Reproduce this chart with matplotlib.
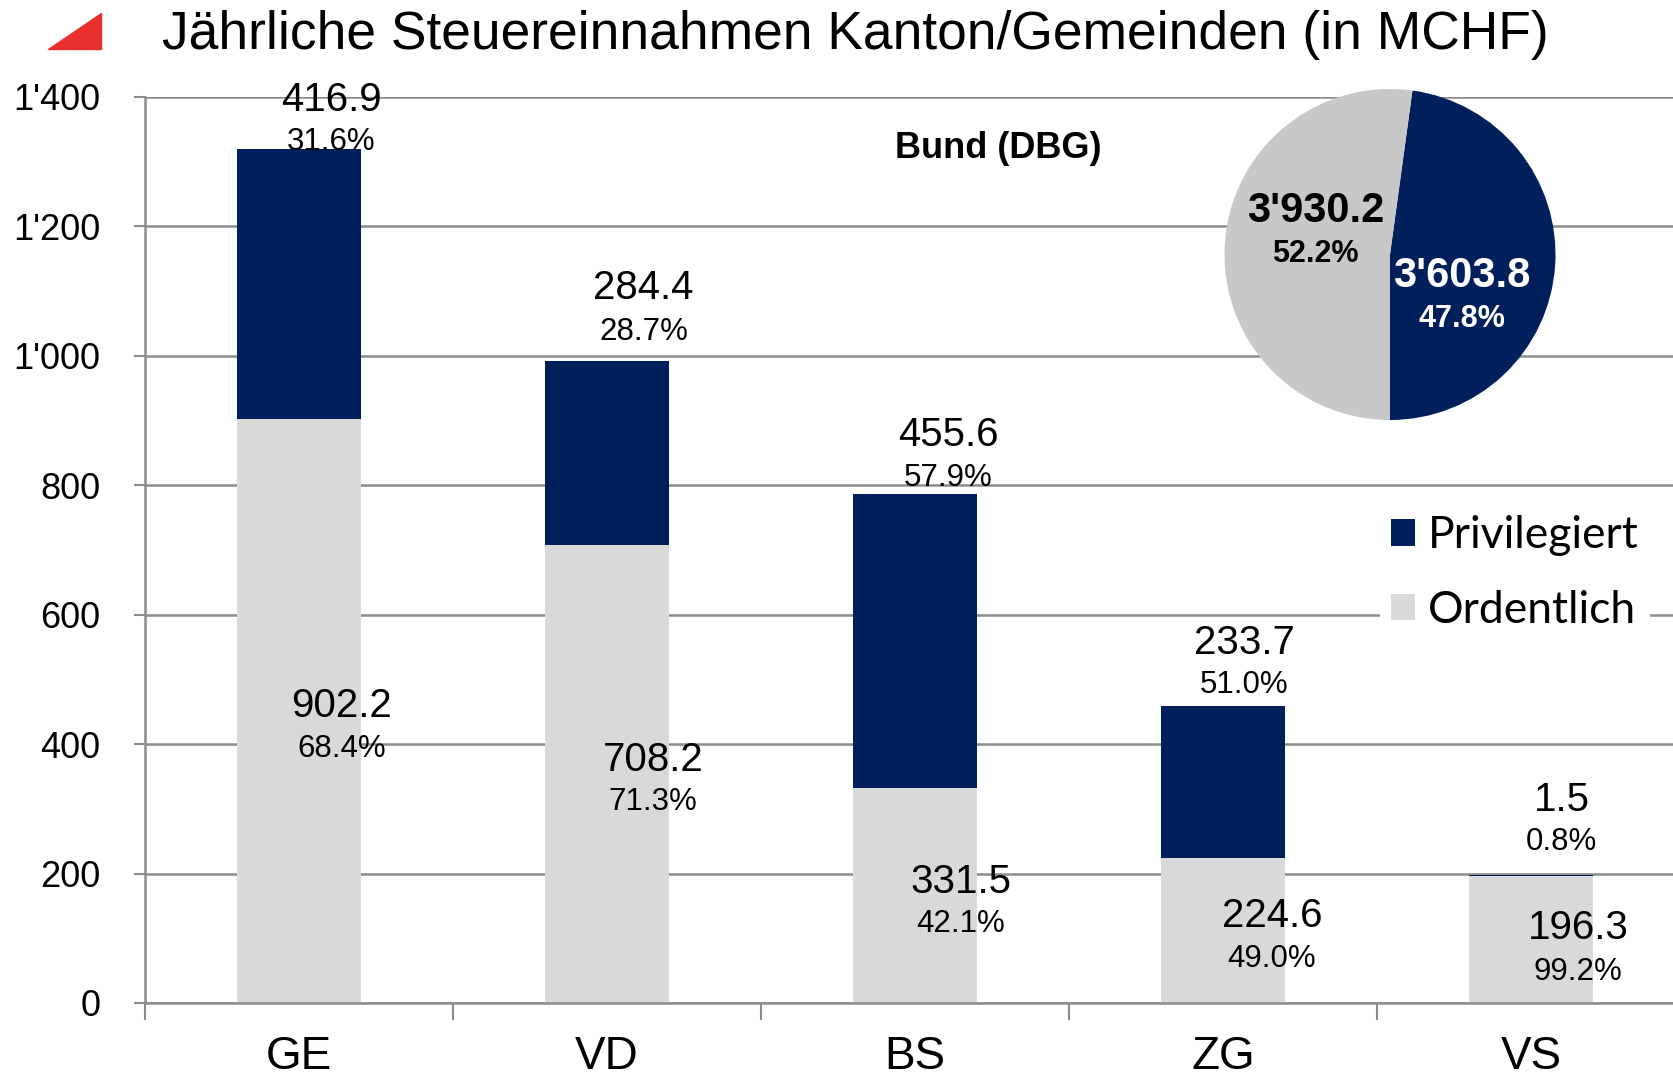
import numpy as np
import matplotlib.pyplot as plt
from matplotlib.patches import Polygon

plt.rcParams['font.family'] = ['Liberation Sans', 'DejaVu Sans']

# Daten
kantone = ['GE', 'VD', 'BS', 'ZG', 'VS']
ordentlich = [902.2, 708.2, 331.5, 224.6, 196.3]
privilegiert = [416.9, 284.4, 455.6, 233.7, 1.5]
anteil_ord = ['68.4%', '71.3%', '42.1%', '49.0%', '99.2%']
anteil_priv = ['31.6%', '28.7%', '57.9%', '51.0%', '0.8%']

bund_werte = [3603.8, 3930.2]          # Privilegiert, Ordentlich
bund_labels = ["3'603.8", "3'930.2"]
bund_anteile = ['47.8%', '52.2%']

y_ticks = [0, 200, 400, 600, 800, 1000, 1200, 1400]
y_ticklabels = ['0', '200', '400', '600', '800', "1'000", "1'200", "1'400"]

# Layout der Beschriftungen (wie im Original manuell verschoben)
top_dx = [0.104, 0.118, 0.107, 0.069, 0.10]
top_y = [1395, 1105, 878, 557, 314]
top_gap = [64, 68, 66, 65, 65]
bot_dx = [0.138, 0.149, 0.149, 0.159, 0.152]
bot_y = [459, 376, 187, 134, 116]
bot_gap = [66, 66, 65, 66, 68]

dunkel = '#001f5b'
hell_bar = '#d9d9d9'
hell_pie = '#c8c8c8'
grau = '#8c8c8c'

W, H = 1673, 1080
fig = plt.figure(figsize=(W / 100, H / 100), dpi=100)

# Hauptachse: links 145px, 0 bei y=1003px, 1400 bei y=97px
ax = fig.add_axes([145 / W, (H - 1003) / H, 1540 / W, 906 / H])
x = np.arange(len(kantone))
ax.bar(x, ordentlich, width=0.4, color=hell_bar, zorder=2, label='Ordentlich')
ax.bar(x, privilegiert, width=0.4, bottom=ordentlich, color=dunkel, zorder=2,
       label='Privilegiert')

ax.set_xlim(-0.5, len(kantone) - 0.5)
ax.set_ylim(0, 1400)
ax.set_yticks(y_ticks)
ax.set_yticklabels(y_ticklabels, fontsize=26)
ax.set_xticks(x)
ax.set_xticklabels(kantone, fontsize=33)
ax.set_xticks(np.arange(len(kantone) + 1) - 0.5, minor=True)
ax.tick_params(axis='x', which='major', length=0, pad=23)
ax.tick_params(axis='x', which='minor', length=12, width=1.5, color=grau)
ax.tick_params(axis='y', length=8, width=1.5, color=grau, pad=24)
ax.grid(axis='y', color=grau, linewidth=1.8, zorder=0)
for s in ['top', 'right']:
    ax.spines[s].set_visible(False)
for s in ['left', 'bottom']:
    ax.spines[s].set_color(grau)
    ax.spines[s].set_linewidth(1.8)
ax.spines['bottom'].set_zorder(3)

for i in range(len(kantone)):
    ax.text(x[i] + top_dx[i], top_y[i], f'{privilegiert[i]:.1f}', ha='center',
            va='center', fontsize=29, zorder=4)
    ax.text(x[i] + top_dx[i], top_y[i] - top_gap[i], anteil_priv[i],
            ha='center', va='center', fontsize=22.5, zorder=4)
    ax.text(x[i] + bot_dx[i], bot_y[i], f'{ordentlich[i]:.1f}', ha='center',
            va='center', fontsize=29, zorder=4)
    ax.text(x[i] + bot_dx[i], bot_y[i] - bot_gap[i], anteil_ord[i],
            ha='center', va='center', fontsize=22.5, zorder=4)

# Legende
h, l = ax.get_legend_handles_labels()
leg = fig.legend(h[::-1], l[::-1], loc='center',
                 bbox_to_anchor=(1515 / W, 1 - 573 / H),
                 prop={'family': 'Lato', 'size': 32}, frameon=True,
                 fancybox=False, edgecolor='none', facecolor='white',
                 framealpha=1, handlelength=0.53, handleheight=0.53,
                 handletextpad=0.31, labelspacing=0.75, borderpad=0.25)

# Titel und rotes Dreieck
fig.text(162 / W, 1 - 35 / H, 'Jährliche Steuereinnahmen Kanton/Gemeinden (in MCHF)',
         fontsize=38.4, va='center', ha='left')
tri = Polygon([(48 / W, 1 - 49 / H), (101 / W, 1 - 49 / H), (101 / W, 1 - 13 / H)],
              closed=True, transform=fig.transFigure, color='#e8312f')
fig.patches.append(tri)

fig.text(998 / W, 1 - 148 / H, 'Bund (DBG)', fontsize=26, fontweight='bold',
         ha='center', va='center')

# Kreisdiagramm Bund
r = 165.5
pax = fig.add_axes([(1390 - r) / W, (H - 254.5 - r) / H, 2 * r / W, 2 * r / H])
pax.pie(bund_werte, colors=[dunkel, hell_pie], startangle=-90, counterclock=True,
        radius=1)
pax.set_xlim(-1, 1)
pax.set_ylim(-1, 1)
pax.text(-0.45, 0.26, bund_labels[1], fontsize=30, fontweight='bold',
         ha='center', va='center')
pax.text(-0.45, 0.0, bund_anteile[1], fontsize=22, fontweight='bold',
         ha='center', va='center')
pax.text(0.434, -0.13, bund_labels[0], fontsize=30, fontweight='bold',
         ha='center', va='center', color='white')
pax.text(0.434, -0.387, bund_anteile[0], fontsize=22, fontweight='bold',
         ha='center', va='center', color='white')

fig.savefig('out.png', dpi=100)
